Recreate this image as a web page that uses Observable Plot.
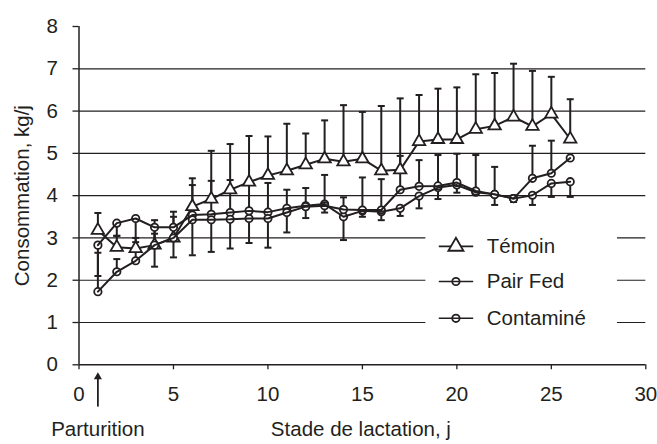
<!DOCTYPE html>
<html>
<head>
<meta charset="utf-8">
<script src="https://cdn.jsdelivr.net/npm/d3@7"></script>
<script src="https://cdn.jsdelivr.net/npm/@observablehq/plot@0.6"></script>
<style>
  html, body { margin: 0; padding: 0; background: #fff; }
  #chart svg { display: block; }
</style>
</head>
<body>
<div id="chart"></div>
<script>
// ---- data ----
const days = [1, 2, 3, 4, 5, 6, 7, 8, 9, 10, 11, 12, 13, 14, 15, 16, 17, 18, 19, 20, 21, 22, 23, 24, 25, 26];
const temoin      = [3.18, 2.78, 2.75, 2.83, 3.00, 3.74, 3.92, 4.14, 4.32, 4.48, 4.59, 4.73, 4.87, 4.80, 4.87, 4.59, 4.61, 5.28, 5.33, 5.33, 5.57, 5.65, 5.86, 5.64, 5.93, 5.34];
const temoinHigh  = [3.59, 3.05, 3.00, 3.42, 3.62, 4.41, 5.06, 5.22, 5.41, 5.40, 5.70, 5.47, 5.78, 6.14, 5.98, 6.12, 6.30, 6.38, 6.53, 6.56, 6.87, 6.90, 7.12, 6.95, 6.81, 6.28];
const pairFed     = [2.83, 3.35, 3.46, 3.25, 3.25, 3.54, 3.56, 3.60, 3.64, 3.61, 3.70, 3.76, 3.80, 3.50, 3.64, 3.62, 3.70, 3.99, 4.19, 4.25, 4.08, 4.03, 3.93, 4.01, 4.29, 4.33];
const pairFedLow  = [2.10, 3.05, 2.90, 2.32, 2.54, 2.59, 2.67, 2.75, 2.88, 2.77, 3.13, 3.47, 3.60, 2.95, 3.50, 3.42, 3.52, 3.70, 3.92, 4.07, 4.08, 3.78, 3.85, 3.78, 3.97, 3.97];
const contamine     = [1.73, 2.20, 2.46, 2.83, 3.00, 3.43, 3.43, 3.44, 3.46, 3.46, 3.60, 3.74, 3.76, 3.67, 3.66, 3.66, 4.14, 4.22, 4.23, 4.31, 4.11, 4.03, 3.93, 4.41, 4.53, 4.89];
const contamineHigh = [2.65, 2.50, 2.70, 3.10, 3.50, 4.25, 4.35, 4.37, 4.30, 4.30, 4.14, 4.18, 4.49, 3.96, 4.43, 4.39, 4.94, 4.84, 4.96, 4.99, 4.96, 4.68, 4.00, 5.18, 5.30, 4.89];

const seriesNames = ["Témoin", "Pair Fed", "Contaminé"];
const xTicks = [0, 5, 10, 15, 20, 25, 30];
const yTicks = [0, 1, 2, 3, 4, 5, 6, 7, 8];
const gridValues = [1, 2, 3, 4, 5, 6, 7];
const parturitionDay = 1;
const xTitle = "Stade de lactation, j";
const yTitle = "Consommation, kg/j";
const arrowLabel = "Parturition";

// ---- layout (not data) ----
const ink = "#231f20";
const FONT = "'Liberation Sans', Arial, Helvetica, sans-serif";
const FS = 20.5;
const legendRows = [2.80, 1.97, 1.10];
const legendBox = {x1: 18.36, x2: 28.5, y1: 0.6, y2: 3.3};
const legendLine = {x1: 19.07, x2: 20.89, mark: 19.95, text: 21.58};

const rows = days.map((d, i) => ({
  day: d,
  temoin: temoin[i], temoinHigh: temoinHigh[i],
  pairFed: pairFed[i], pairFedLow: pairFedLow[i],
  contamine: contamine[i], contamineHigh: contamineHigh[i]
}));

const legendItems = seriesNames.map((name, i) => ({label: name, row: legendRows[i], tri: i === 0}));

const cap = { draw(ctx) { ctx.moveTo(-3.5, 0); ctx.lineTo(3.5, 0); } };

const chart = Plot.plot({
  width: 657,
  height: 444,
  marginLeft: 78.5,
  marginRight: 11.7,
  marginTop: 26,
  marginBottom: 79.7,
  x: {domain: [0, 30]},
  y: {domain: [0, 8]},
  style: {fontFamily: FONT, fontSize: FS + "px", color: ink, background: "#fff"},
  marks: [
    Plot.ruleY(gridValues, {x1: 0, x2: 30, stroke: ink, strokeWidth: 1.2}),
    Plot.rect([legendBox], {x1: "x1", x2: "x2", y1: "y1", y2: "y2", fill: "#fff"}),
    Plot.ruleX([0], {y1: 0, y2: 8, stroke: ink, strokeWidth: 1.5}),
    Plot.ruleY([0], {x1: 0, x2: 30, stroke: ink, strokeWidth: 1.5}),
    Plot.axisY({ticks: yTicks, tickSize: 6, tickPadding: 15, label: null, fontSize: FS, stroke: ink, strokeWidth: 1.3}),
    Plot.axisX({ticks: xTicks, tickSize: 5, tickPadding: 17, label: null, fontSize: FS, stroke: ink, strokeWidth: 1.3}),

    Plot.ruleX(rows, {x: "day", y1: "temoin", y2: "temoinHigh", stroke: ink, strokeWidth: 2}),
    Plot.dot(rows, {x: "day", y: "temoinHigh", symbol: cap, stroke: ink, strokeWidth: 2}),
    Plot.ruleX(rows, {x: "day", y1: "pairFed", y2: "pairFedLow", stroke: ink, strokeWidth: 2}),
    Plot.dot(rows, {x: "day", y: "pairFedLow", symbol: cap, stroke: ink, strokeWidth: 2}),
    Plot.ruleX(rows, {x: "day", y1: "contamine", y2: "contamineHigh", stroke: ink, strokeWidth: 2}),
    Plot.dot(rows, {x: "day", y: "contamineHigh", symbol: cap, stroke: ink, strokeWidth: 2}),

    Plot.line(rows, {x: "day", y: "temoin", stroke: ink, strokeWidth: 2}),
    Plot.dot(rows, {x: "day", y: "temoin", symbol: "triangle", r: 4.6, fill: "#fff", stroke: ink, strokeWidth: 1.8}),

    Plot.dot(rows, {x: "day", y: "pairFed", r: 3.7, fill: "#fff", stroke: ink, strokeWidth: 1.8}),
    Plot.dot(rows, {x: "day", y: "contamine", r: 3.7, fill: "#fff", stroke: ink, strokeWidth: 1.8}),
    Plot.line(rows, {x: "day", y: "pairFed", stroke: ink, strokeWidth: 2}),
    Plot.line(rows, {x: "day", y: "contamine", stroke: ink, strokeWidth: 2}),

    Plot.ruleY(legendItems.filter(d => d.tri), {y: "row", x1: legendLine.x1, x2: legendLine.x2, stroke: ink, strokeWidth: 1.6}),
    Plot.dot(legendItems.filter(d => d.tri), {x: legendLine.mark, y: "row", symbol: "triangle", r: 5.6, fill: "#fff", stroke: ink, strokeWidth: 1.8}),
    Plot.dot(legendItems.filter(d => !d.tri), {x: legendLine.mark, y: "row", r: 3.7, fill: "#fff", stroke: ink, strokeWidth: 1.8}),
    Plot.ruleY(legendItems.filter(d => !d.tri), {y: "row", x1: legendLine.x1, x2: legendLine.x2, stroke: ink, strokeWidth: 1.6}),
    Plot.text(legendItems, {x: legendLine.text, y: "row", text: "label", textAnchor: "start", fontSize: FS, fill: ink}),

    Plot.ruleX([parturitionDay], {x: d => d, y1: -1.0, y2: -0.33, stroke: ink, strokeWidth: 1.8}),
    Plot.dot([parturitionDay], {x: d => d, y: -0.286, symbol: "triangle", r: 3, fill: ink, stroke: "none"}),
    Plot.text([arrowLabel], {x: parturitionDay, y: -1.54, text: d => d, textAnchor: "middle", fontSize: FS, fill: ink}),
    Plot.text([xTitle], {x: 14.92, y: -1.54, text: d => d, textAnchor: "middle", fontSize: FS, fill: ink}),
    Plot.text([yTitle], {frameAnchor: "left", dx: -57, rotate: -90, text: d => d, textAnchor: "middle", fontSize: FS, fill: ink})
  ]
});

document.getElementById("chart").appendChild(chart);
</script>
</body>
</html>
